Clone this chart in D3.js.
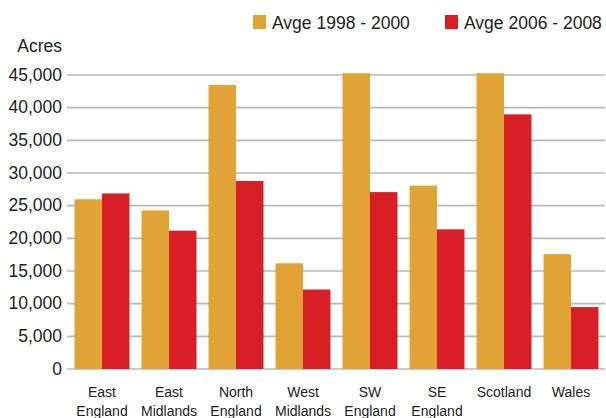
<!DOCTYPE html>
<html><head><meta charset="utf-8">
<script src="https://cdn.jsdelivr.net/npm/d3@7"></script>
<style>body{margin:0;background:#fff}svg{display:block}text{font-family:"Liberation Sans",Arial,sans-serif;fill:#222}</style>
</head><body>
<script>
const categories = [["East","England"],["East","Midlands"],["North","England"],["West","Midlands"],["SW","England"],["SE","England"],["Scotland"],["Wales"]];
const seriesNames = ["Avge 1998 - 2000","Avge 2006 - 2008"];
const avg1998 = [25900, 24200, 43400, 16100, 45200, 28000, 45200, 17500];
const avg2006 = [26800, 21100, 28700, 12100, 27000, 21300, 38900, 9400];
const yTicks = [0,5000,10000,15000,20000,25000,30000,35000,40000,45000];
const colors = ["#E1A236","#D91F26"];

const W=606,H=418;
const svg=d3.select("body").append("svg").attr("width",W).attr("height",H);
const x0=d3.scaleBand().domain(d3.range(categories.length)).range([68.5,604.5]).paddingInner(0.18).paddingOuter(0.09);
const x1=d3.scaleBand().domain([0,1]).range([0,x0.bandwidth()]);
const y=d3.scaleLinear().domain([0,45000]).range([368.5,74.5]);

// grid
const yAxis=d3.axisLeft(y).tickValues(yTicks).tickFormat(d3.format(",")).tickSize(-(605-67)).tickPadding(5);
const gy=svg.append("g").attr("transform","translate(67,0)").call(yAxis);
gy.select(".domain").remove();
gy.selectAll(".tick line").attr("stroke","#b8b8b8").attr("stroke-width",1.6);
gy.selectAll(".tick text").attr("font-size","17.5px").attr("fill","#222").attr("x",-5);

// bars
const data=categories.map((c,i)=>[avg1998[i],avg2006[i]]);
const g=svg.append("g");
data.forEach((vals,i)=>{
  vals.forEach((v,j)=>{
    g.append("rect").attr("x",x0(i)+x1(j)).attr("width",x1.bandwidth())
     .attr("y",y(v)).attr("height",y(0)-y(v)+0.5).attr("fill",colors[j]);
  });
});

// x labels
categories.forEach((lines,i)=>{
  const cx=x0(i)+x0.bandwidth()/2;
  const t=svg.append("text").attr("text-anchor","middle").attr("font-size","14px");
  lines.forEach((l,k)=>t.append("tspan").attr("x",cx).attr("y",397+k*19).text(l));
});

svg.append("text").attr("x",62).attr("y",52).attr("text-anchor","end").attr("font-size","17.5px").text("Acres");

// legend
const legX=[253,445];
seriesNames.forEach((n,j)=>{
  svg.append("rect").attr("x",legX[j]).attr("y",15).attr("width",13).attr("height",14).attr("fill",colors[j]);
  svg.append("text").attr("x",legX[j]+19).attr("y",29).attr("font-size","17.5px").text(n);
});
</script>
</body></html>
